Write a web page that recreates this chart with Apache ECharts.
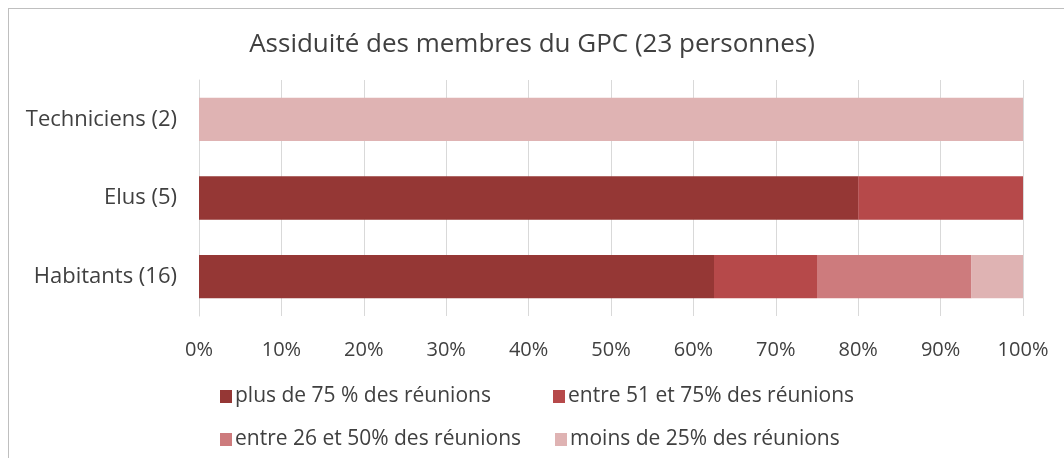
<!DOCTYPE html>
<html>
<head>
<meta charset="utf-8">
<script src="https://cdn.jsdelivr.net/npm/echarts@6/dist/echarts.min.js"></script>
<style>
  html, body { margin: 0; padding: 0; background: #fff; }
  #frame {
    position: absolute; left: 8px; top: 8px; width: 1070px; height: 460px;
    border: 1px solid #bfbfbf; box-sizing: border-box;
  }
  #main { position: absolute; left: 0; top: 0; width: 1064px; height: 458px; }
</style>
</head>
<body>
<div id="frame"></div>
<div id="main"></div>
<script>
// categories bottom -> top
var categories = ["Habitants (16)", "Elus (5)", "Techniciens (2)"];
var seriesNames = [
  "plus de 75 % des réunions",
  "entre 51 et 75% des réunions",
  "entre 26 et 50% des réunions",
  "moins de 25% des réunions"
];
// shares in %, per category (Habitants, Elus, Techniciens)
var plus75 = [62.5, 80, 0];
var entre51 = [12.5, 20, 0];
var entre26 = [18.75, 0, 0];
var moins25 = [6.25, 0, 100];
var tickLabels = ["0%", "10%", "20%", "30%", "40%", "50%", "60%", "70%", "80%", "90%", "100%"];
var colors = ["#953735", "#b6494a", "#cd7b7d", "#dfb3b3"];

var font = "'Open Sans', 'Noto Sans', sans-serif";
var values = [plus75, entre51, entre26, moins25];

// one legend per entry so the two rows line up like the original
var legendPos = [[215, 381], [548, 381], [215, 424], [550, 424]];
var legends = seriesNames.map(function (name, i) {
  return {
    data: [name],
    left: legendPos[i][0], top: legendPos[i][1],
    itemWidth: 12, itemHeight: 13, icon: "rect", selectedMode: false,
    textStyle: { fontFamily: font, fontSize: 21, color: "#404040", padding: [0, 0, 0, -2] }
  };
});

var chart = echarts.init(document.getElementById("main"));
var option = {
  animation: false,
  title: {
    text: "Assiduité des membres du GPC (23 personnes)",
    left: "center",
    top: 27,
    textStyle: { fontFamily: font, fontSize: 26, fontWeight: "normal", color: "#404040" }
  },
  legend: legends,
  grid: { left: 199, right: 41, top: 80, bottom: 142, containLabel: false },
  xAxis: {
    type: "value",
    min: 0, max: 100, interval: 10,
    axisLine: { show: false },
    axisTick: { show: false },
    splitLine: { lineStyle: { color: "#d9d9d9", width: 1 } },
    axisLabel: {
      margin: 24,
      fontFamily: font, fontSize: 20, color: "#404040",
      formatter: function (v) { return tickLabels[Math.round(v / 10)]; }
    }
  },
  yAxis: {
    type: "category",
    data: categories,
    axisLine: { lineStyle: { color: "#d9d9d9" } },
    axisTick: { show: false },
    axisLabel: { margin: 22, fontFamily: font, fontSize: 22, color: "#404040" }
  },
  series: seriesNames.map(function (name, i) {
    return {
      name: name,
      type: "bar",
      stack: "total",
      barCategoryGap: "45%",
      itemStyle: { color: colors[i] },
      data: values[i]
    };
  })
};
chart.setOption(option);
</script>
</body>
</html>
